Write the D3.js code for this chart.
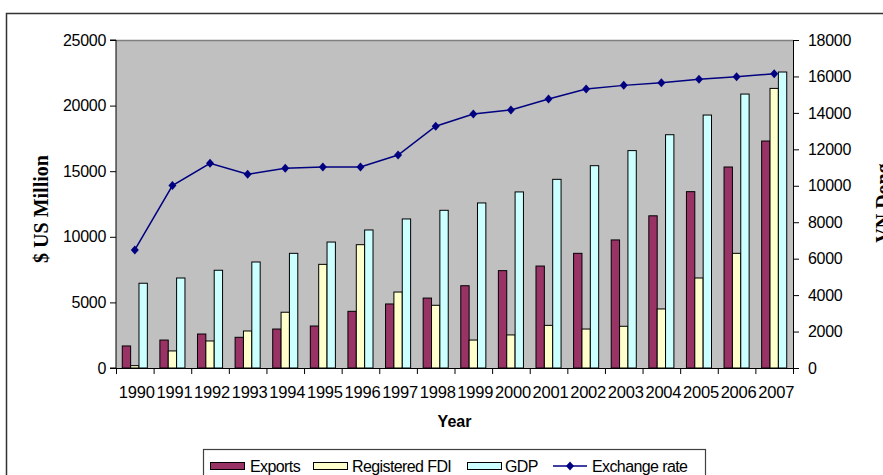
<!DOCTYPE html>
<html>
<head>
<meta charset="utf-8">
<script src="https://cdn.jsdelivr.net/npm/d3@7"></script>
<style>
  body { margin: 0; background: #fff; }
  svg text { font-family: Arial, "Liberation Sans", sans-serif; fill: #000; }
  .serif { font-family: "Times New Roman", "Liberation Serif", serif; font-weight: bold; }
</style>
</head>
<body>
<div id="container"></div>
<script>
/** DATA */
const years = ["1990","1991","1992","1993","1994","1995","1996","1997","1998","1999",
               "2000","2001","2002","2003","2004","2005","2006","2007"];
const exportsVals = [1680, 2130, 2590, 2340, 2970, 3200, 4320, 4880, 5330, 6270,
                     7420, 7770, 8740, 9760, 11600, 13440, 15320, 17300];
const fdiVals = [180, 1300, 2060, 2820, 4250, 7900, 9400, 5790, 4780, 2130,
                 2520, 3250, 2970, 3180, 4500, 6860, 8740, 21310];
const gdpVals = [6460, 6860, 7450, 8080, 8740, 9600, 10520, 11360, 12020, 12580,
                 13420, 14380, 15420, 16570, 17780, 19280, 20880, 22560];
const rateVals = [6480, 10010, 11230, 10630, 10960, 11030, 11030, 11690, 13270, 13940,
                  14160, 14760, 15310, 15510, 15660, 15840, 15990, 16150];
const seriesNames = ["Exports", "Registered FDI", "GDP"];
const leftTicks = [0, 5000, 10000, 15000, 20000, 25000];
const rightTicks = [0, 2000, 4000, 6000, 8000, 10000, 12000, 14000, 16000, 18000];

/** CONSTANTS */
const width = 883, height = 475;
const plot = { left: 116, right: 793, top: 40, bottom: 368 };
const barColors = ["#993366", "#FFFFCC", "#CCFFFF"];
const lineColor = "#000080";

const svg = d3.select("#container").append("svg")
  .attr("width", width).attr("height", height);

// outer chart frame (runs off the right/bottom edge like the original)
svg.append("rect")
  .attr("x", 6.5).attr("y", 13.5).attr("width", 920).attr("height", 520)
  .attr("fill", "none").attr("stroke", "#333").attr("stroke-width", 1.5);

// scales
const x0 = d3.scaleBand().domain(years).range([plot.left, plot.right]);
const x1 = d3.scaleBand().domain(seriesNames).range([0, x0.bandwidth()])
  .paddingInner(0).paddingOuter(0.75);
const yL = d3.scaleLinear().domain([0, 25000]).range([plot.bottom, plot.top]);
const yR = d3.scaleLinear().domain([0, 18000]).range([plot.bottom, plot.top]);

// plot background
svg.append("rect")
  .attr("x", plot.left).attr("y", plot.top)
  .attr("width", plot.right - plot.left).attr("height", plot.bottom - plot.top)
  .attr("fill", "#C0C0C0");
svg.append("line")
  .attr("x1", plot.left).attr("x2", plot.right)
  .attr("y1", plot.top + 0.5).attr("y2", plot.top + 0.5)
  .attr("stroke", "#808080").attr("stroke-width", 1.5);

// bars
const table = years.map((yr, i) => ({
  year: yr,
  vals: [exportsVals[i], fdiVals[i], gdpVals[i]]
}));

const groups = svg.selectAll(".yr")
  .data(table)
  .join("g")
  .attr("class", "yr")
  .attr("transform", d => `translate(${x0(d.year)},0)`);

groups.selectAll("rect")
  .data(d => d.vals.map((v, k) => ({ name: seriesNames[k], v, k })))
  .join("rect")
  .attr("x", d => x1(d.name))
  .attr("y", d => yL(d.v))
  .attr("width", x1.bandwidth())
  .attr("height", d => yL(0) - yL(d.v))
  .attr("fill", d => barColors[d.k])
  .attr("stroke", "#000")
  .attr("stroke-width", 1);

// exchange rate line
const cx = d => x0(d) + x0.bandwidth() / 2;
const lineGen = d3.line()
  .x((d, i) => cx(years[i]))
  .y(d => yR(d));
svg.append("path")
  .datum(rateVals)
  .attr("d", lineGen)
  .attr("fill", "none")
  .attr("stroke", lineColor)
  .attr("stroke-width", 1.5);

const diamond = "M0,-4.5L4,0L0,4.5L-4,0Z";
svg.selectAll(".pt")
  .data(rateVals)
  .join("path")
  .attr("class", "pt")
  .attr("d", diamond)
  .attr("transform", (d, i) => `translate(${cx(years[i])},${yR(d)})`)
  .attr("fill", lineColor);

// axes
const leftAxis = d3.axisLeft(yL).tickValues(leftTicks).tickSize(6).tickPadding(4)
  .tickFormat(d3.format("d"));
const rightAxis = d3.axisRight(yR).tickValues(rightTicks).tickSize(6).tickPadding(9)
  .tickFormat(d3.format("d"));

function styleAxis(g) {
  g.select(".domain").attr("stroke", "#000");
  g.selectAll(".tick line").attr("stroke", "#000");
  g.selectAll("text")
    .attr("font-size", 16)
    .attr("font-family", "Arial, 'Liberation Sans', sans-serif")
    .attr("letter-spacing", "-0.3px")
    .attr("fill", "#000");
}

svg.append("g")
  .attr("transform", `translate(${plot.left},0)`)
  .call(leftAxis)
  .call(g => g.select(".domain").attr("d", `M-6,${plot.top}H0V${plot.bottom}H-6`))
  .call(styleAxis);

svg.append("g")
  .attr("transform", `translate(${plot.right},0)`)
  .call(rightAxis)
  .call(styleAxis);

// x axis: line, ticks at band edges, labels in the middle
const xg = svg.append("g");
xg.append("line")
  .attr("x1", plot.left).attr("x2", plot.right)
  .attr("y1", plot.bottom + 0.5).attr("y2", plot.bottom + 0.5)
  .attr("stroke", "#000");
xg.selectAll(".xt")
  .data(years.concat(["end"]))
  .join("line")
  .attr("class", "xt")
  .attr("x1", (d, i) => plot.left + i * x0.step() + 0.5)
  .attr("x2", (d, i) => plot.left + i * x0.step() + 0.5)
  .attr("y1", plot.bottom)
  .attr("y2", plot.bottom + 6)
  .attr("stroke", "#000");
xg.selectAll(".xl")
  .data(years)
  .join("text")
  .attr("class", "xl")
  .attr("x", d => cx(d) + 2)
  .attr("y", 398)
  .attr("text-anchor", "middle")
  .attr("font-size", 16.5)
  .attr("letter-spacing", "-0.2px")
  .text(d => d);

// axis titles
svg.append("text")
  .attr("x", (plot.left + plot.right) / 2)
  .attr("y", 427)
  .attr("text-anchor", "middle")
  .attr("font-size", 16)
  .attr("font-weight", "bold")
  .text("Year");

svg.append("text")
  .attr("class", "serif")
  .attr("transform", "translate(48,209) rotate(-90)")
  .attr("text-anchor", "middle")
  .attr("font-size", 20)
  .text("$ US Million");

svg.append("text")
  .attr("class", "serif")
  .attr("transform", "translate(890,203) rotate(-90)")
  .attr("text-anchor", "middle")
  .attr("font-size", 20)
  .text("VN Dong");

// legend
const legend = svg.append("g");
legend.append("rect")
  .attr("x", 203.5).attr("y", 449.5).attr("width", 502).attr("height", 40)
  .attr("fill", "#fff").attr("stroke", "#404040").attr("stroke-width", 1.2);

const legendItems = [
  { name: "Exports", sw: 210, tx: 250, k: 0 },
  { name: "Registered FDI", sw: 313, tx: 352, k: 1 },
  { name: "GDP", sw: 467, tx: 505, k: 2 }
];
legendItems.forEach(it => {
  legend.append("rect")
    .attr("x", it.sw + 0.5).attr("y", 462.5).attr("width", 34).attr("height", 7)
    .attr("fill", barColors[it.k]).attr("stroke", "#000");
  legend.append("text")
    .attr("x", it.tx).attr("y", 472)
    .attr("font-size", 16).attr("letter-spacing", "-0.6px")
    .text(it.name);
});
legend.append("line")
  .attr("x1", 553).attr("x2", 587).attr("y1", 466).attr("y2", 466)
  .attr("stroke", lineColor).attr("stroke-width", 1.5);
legend.append("path")
  .attr("d", diamond)
  .attr("transform", "translate(570,466)")
  .attr("fill", lineColor);
legend.append("text")
  .attr("x", 592).attr("y", 472)
  .attr("font-size", 16).attr("letter-spacing", "-0.6px")
  .text("Exchange rate");
</script>
</body>
</html>
